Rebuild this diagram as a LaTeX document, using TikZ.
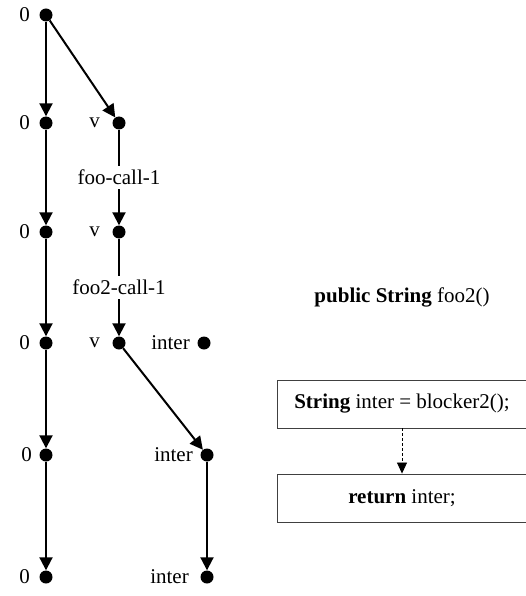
\documentclass[tikz,border=0pt]{standalone}
\usepackage{fontspec}
\setmainfont{Liberation Serif}
\usetikzlibrary{arrows.meta}
\begin{document}
\begin{tikzpicture}[x=1bp,y=-1bp,
  dot/.style={circle,fill=black,draw=none,minimum size=13bp,inner sep=0pt},
  lbl/.style={inner sep=0pt,anchor=east,font=\fontsize{21bp}{25bp}\selectfont},
  txt/.style={inner sep=0pt,font=\fontsize{21bp}{25bp}\selectfont},
  edge/.style={line width=2bp,-{Triangle[length=13bp,width=13bp]}},
  codebox/.style={draw=black!75,line width=0.9bp,minimum width=250bp,minimum height=48bp,inner sep=0pt,font=\fontsize{21bp}{25bp}\selectfont},
  flow/.style={densely dashed,line width=0.8bp,-{Triangle[length=11bp,width=10bp]}}]
\clip (0,0) rectangle (526,596);
% left column
\node[dot] (a1) at (46,15) {};
\node[dot] (a2) at (46,123) {};
\node[dot] (a3) at (46,232) {};
\node[dot] (a4) at (46,343) {};
\node[dot] (a5) at (46,455) {};
\node[dot] (a6) at (46,577) {};
\node[lbl] (la1) at (30,15) {0};
\node[lbl] (la2) at (30,123) {0};
\node[lbl] (la3) at (30,232) {0};
\node[lbl] (la4) at (30,343) {0};
\node[lbl] (la5) at (32,455) {0};
\node[lbl] (la6) at (30,577) {0};
% middle column
\node[dot] (v1) at (119,123) {};
\node[dot] (v2) at (119,232) {};
\node[dot] (v3) at (119,343) {};
\node[lbl] (lv1) at (100,123) {v};
\node[lbl] (lv2) at (100,232) {v};
\node[lbl] (lv3) at (100,343) {v};
% inter nodes
\node[dot] (i1) at (204,343) {};
\node[lbl] (li1) at (190,343) {inter};
\node[dot] (i2) at (207,455) {};
\node[lbl] (li2) at (193,455) {inter};
\node[dot] (i3) at (207,577) {};
\node[lbl] (li3) at (189,577) {inter};
% edges
\draw[edge] (a1) -- (a2);
\draw[edge] (a2) -- (a3);
\draw[edge] (a3) -- (a4);
\draw[edge] (a4) -- (a5);
\draw[edge] (a5) -- (a6);
\draw[edge] (a1) -- (v1);
\draw[edge] (v1) -- node[txt,fill=white,inner sep=4bp] (c1) {foo-call-1} (v2);
\draw[edge] (v2) -- node[txt,fill=white,inner sep=4bp] (c2) {foo2-call-1} (v3);
\draw[edge] (v3) -- (i2);
\draw[edge] (i2) -- (i3);
% code part
\node[txt] (title) at (402,297) {\textbf{public String} foo2()};
\node[codebox] (b1) at (402,404) {\textbf{String} inter = blocker2();};
\node[codebox] (b2) at (402,498) {\textbf{return} inter;};
\draw[flow] (b1) -- (b2);
\end{tikzpicture}
\end{document}
